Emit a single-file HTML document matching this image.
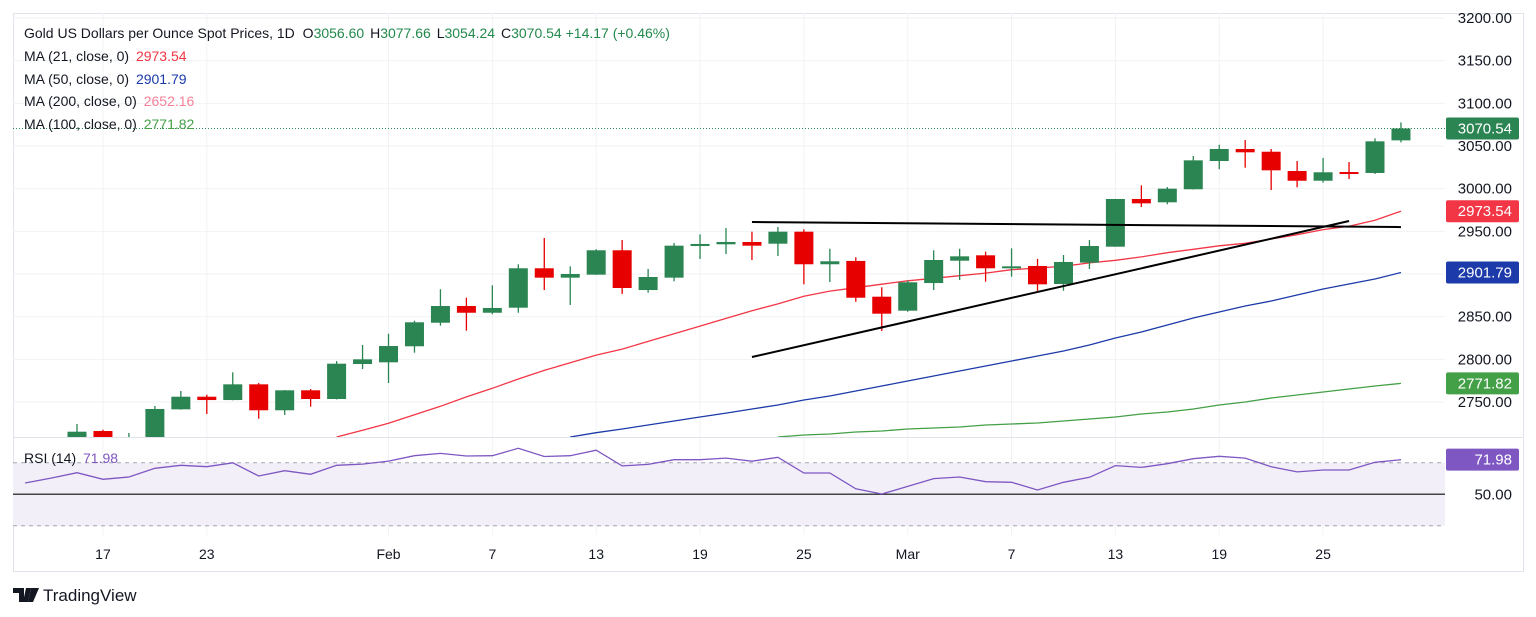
<!DOCTYPE html>
<html><head><meta charset="utf-8"><style>
html,body{margin:0;padding:0;background:#fff;}
svg{display:block;font-family:"Liberation Sans",Arial,sans-serif;}
</style></head><body>
<svg id="chart" width="1536" height="617" viewBox="0 0 1536 617" xmlns="http://www.w3.org/2000/svg">
<defs>
<clipPath id="mainClip"><rect x="13" y="13" width="1432" height="424"/></clipPath>
<clipPath id="rsiClip"><rect x="13" y="438" width="1432" height="97"/></clipPath>
</defs>
<rect x="13.5" y="13.5" width="1510" height="558" fill="#fff" stroke="#e0e3eb"/>
<g id="grid"></g>
<rect x="13" y="462.7" width="1432" height="63" fill="#f2eff9"/>
<g id="main" clip-path="url(#mainClip)"></g>
<g id="rsi" clip-path="url(#rsiClip)"></g>
<g id="axes"></g>
<g font-size="14" fill="#131722">
<text x="24" y="38">Gold US Dollars per Ounce Spot Prices, 1D <tspan dx="4">O</tspan><tspan fill="#22894c">3056.60</tspan> <tspan dx="2">H</tspan><tspan fill="#22894c">3077.66</tspan> <tspan dx="2">L</tspan><tspan fill="#22894c">3054.24</tspan> <tspan dx="2">C</tspan><tspan fill="#22894c">3070.54</tspan> <tspan fill="#22894c">+14.17 (+0.46%)</tspan></text>
<text x="24" y="61">MA (21, close, 0) <tspan dx="3" fill="#f23645">2973.54</tspan></text>
<text x="24" y="84">MA (50, close, 0) <tspan dx="3" fill="#1c3aa9">2901.79</tspan></text>
<text x="24" y="106">MA (200, close, 0) <tspan dx="3" fill="#f7819a">2652.16</tspan></text>
<text x="24" y="129">MA (100, close, 0) <tspan dx="3" fill="#43a047">2771.82</tspan></text>
<text x="24" y="463">RSI (14) <tspan dx="3" fill="#7e57c2">71.98</tspan></text>
</g>
<g>
<path d="M13 588h11v14h-5v-9h-6z M26 588h5l-3 14h-5z" fill="#131722"/>
<circle cx="28" cy="590" r="0" fill="#131722"/>
<path d="M31 588h8l-6 14h-5z" fill="#131722"/>
<text x="43" y="601" font-size="17" fill="#131722">TradingView</text>
</g>
</svg>
<script>
// ---- data ----
const dates = ["Jan 16","Jan 17","Jan 20","Jan 21","Jan 22","Jan 23","Jan 24","Jan 27","Jan 28","Jan 29","Jan 30","Jan 31","Feb 3","Feb 4","Feb 5","Feb 6","Feb 7","Feb 10","Feb 11","Feb 12","Feb 13","Feb 14","Feb 17","Feb 18","Feb 19","Feb 20","Feb 21","Feb 24","Feb 25","Feb 26","Feb 27","Feb 28","Mar 3","Mar 4","Mar 5","Mar 6","Mar 7","Mar 10","Mar 11","Mar 12","Mar 13","Mar 14","Mar 17","Mar 18","Mar 19","Mar 20","Mar 21","Mar 24","Mar 25","Mar 26","Mar 27","Mar 28"];
const opens = [2708.2,2716,2707,2708,2741.4,2756.2,2752.3,2770.7,2740.3,2763.7,2753.5,2794.5,2796.5,2815.3,2842.9,2862.5,2854.6,2860.5,2906.7,2895.7,2899.2,2927.8,2881.2,2895.7,2932.8,2934.8,2937.5,2935.5,2949.6,2911.4,2915.3,2873.4,2857,2889.4,2915.6,2921.9,2908.5,2909.4,2888.3,2913.3,2932,2987.9,2984,2999.3,3032.4,3046.5,3043.3,3020.7,3009.3,3019.5,3018.4,3056.6];
const highs = [2724.2,2717.5,2713.7,2745.3,2762.9,2758.6,2784.8,2772.3,2764,2765.2,2798,2816.8,2830,2845.3,2882.1,2872.2,2886.8,2911.4,2942.2,2909,2929,2939.8,2905.9,2936.3,2946.5,2953.9,2949.6,2955.1,2952.4,2929.6,2919.6,2884.4,2892.2,2927.8,2929.6,2926.1,2930.1,2917.6,2922.3,2939.8,2988,3003.9,3001.9,3038.3,3051.5,3057,3046.5,3032.4,3035.9,3031.2,3059,3077.66];
const lows = [2700,2700,2702,2706,2741,2735.9,2752,2730.4,2734.8,2744.5,2753,2788.7,2772.3,2807.8,2839.4,2833.6,2852.8,2854.6,2881.2,2863.7,2899,2876.6,2878.1,2891.4,2917.6,2923.4,2916.4,2921.1,2887.9,2890.6,2867.5,2833.2,2855.8,2881.2,2893,2891,2896.8,2880.1,2880.4,2905.9,2932,2978.5,2981.7,2999,3022.7,3024.6,2998.4,3001.6,3007,3011.3,3017.2,3054.24];
const closes = [2715.2,2706,2709,2741.8,2756.2,2752.3,2770.7,2740.3,2763.7,2753.5,2794.9,2800,2815.6,2843.4,2862.5,2854.6,2860.2,2906.7,2895.7,2900,2927.8,2883.6,2896.5,2933.2,2935.2,2937.5,2933.2,2949.6,2911.4,2914.9,2872.2,2853.5,2890.3,2916.4,2920.7,2906.7,2909,2887.9,2914.1,2932.8,2987.9,2982.8,3000,3033.2,3046.5,3042.6,3021.5,3009.3,3019.2,3018,3055.5,3070.54];
const ma21Start = 10;
const ma21 = [2709,2717,2725,2735,2745,2756,2766,2777,2787,2796,2805,2812,2821,2830,2839,2848,2857,2865,2874,2880,2884,2888,2892,2895,2898,2901,2905,2907,2909,2913,2916,2920,2925,2929,2933,2936,2941,2946,2952,2956,2963,2973.54];
const ma50Start = 19;
const ma50 = [2709,2714,2718.4,2723,2727.7,2732.4,2737,2741.8,2746.5,2752.3,2757,2762.9,2768.7,2774.6,2780.5,2786.3,2792.2,2798,2803.9,2809.8,2816.8,2825,2832,2840.2,2848.4,2855.5,2862.5,2868.4,2875.4,2882.4,2888.3,2894.1,2901.79];
const ma100Start = 27;
const ma100 = [2709,2711.3,2712.5,2714.8,2716,2718.4,2719.5,2720.7,2723,2724.2,2725.4,2727.7,2730.1,2732.4,2735.9,2738.3,2741.8,2746.5,2750,2754.7,2758.2,2761.7,2765.2,2768.7,2771.82];
const rsiStart = -2;
const rsi = [57.2,60.3,63.7,59.5,61,66.5,68.4,67.5,70,61.6,65,62.7,68.4,69.2,71.1,74.5,76,74.3,74.5,79.2,74,74.5,78,68,69,72,72,73,71,73.5,63.5,63.5,53.5,50.2,55,60,61,58,57.6,52.7,57.6,60.8,68.2,67.1,69.4,72.6,74.1,73,67.5,64.2,65.4,65.4,70.3,71.98];
const priceTicks = [2750,2800,2850,2900,2950,3000,3050,3100,3150,3200];
const dateLabels = ["17","23","Feb","7","13","19","25","Mar","7","13","19","25"];
const dateLabelIdx = [1,5,12,16,20,24,28,32,36,40,44,48];
const hLineIdx = [26,51]; const hLinePrice = [2960.9,2955];
const tLineIdx = [26,49]; const tLinePrice = [2802.7,2962.1];

// ---- scales ----
const NS = "http://www.w3.org/2000/svg";
const X0 = 77, STEP = 25.96;
function x(i){ return X0 + i*STEP; }
function y(p){ return 18 + (3200 - p)*0.85333; }
function ry(v){ return 494.3 - (v-50)*1.575; }
function mk(tag, attrs, parent){ const e=document.createElementNS(NS,tag); for(const k in attrs) e.setAttribute(k,attrs[k]); parent.appendChild(e); return e; }

const grid=document.getElementById('grid'), main=document.getElementById('main'), rp=document.getElementById('rsi'), axes=document.getElementById('axes');
const GREEN="#2b8553", RED="#e60000";

// grid
for (let k=0;k<priceTicks.length;k++){
  const gy=y(priceTicks[k]);
  const l=mk('line',{x1:13,x2:1445,y1:gy,y2:gy,stroke:'#f0f2f5','stroke-width':1},grid);
  
  
  const t=mk('text',{x:1512,y:gy+5,'text-anchor':'end','font-size':15,fill:'#131722'},axes);
  t.textContent=priceTicks[k].toFixed(2);
  
  
}
for (let k=0;k<dateLabels.length;k++){
  const gx=x(dateLabelIdx[k]);
  const l=mk('line',{x1:gx,x2:gx,y1:13,y2:535,stroke:'#f0f2f5','stroke-width':1},grid);
  
  
  const t=mk('text',{x:gx,y:559,'text-anchor':'middle','font-size':14,fill:'#131722'},axes);
  t.textContent=dateLabels[k];
  
  
}
const sep=mk('line',{x1:13,x2:1523,y1:437.5,y2:437.5,stroke:'#e0e3eb','stroke-width':1},axes);



// last price line
const lp=mk('line',{x1:13,x2:1445,y1:y(closes[closes.length-1]),y2:y(closes[closes.length-1]),stroke:GREEN,'stroke-width':1,'stroke-dasharray':'1 2'},main);



// MAs
function maPath(arr,start,color,name){
  let d=''; for(let k=0;k<arr.length;k++){ d+=(k?'L':'M')+x(start+k).toFixed(1)+' '+y(arr[k]).toFixed(1); }
  const p=mk('path',{d:d,fill:'none',stroke:color,'stroke-width':1.3},main);
  
  
}
maPath(ma21,ma21Start,'#f23645','ma21-line');
maPath(ma50,ma50Start,'#1c3aa9','ma50-line');
maPath(ma100,ma100Start,'#43a047','ma100-line');

// candles
for(let i=0;i<opens.length;i++){
  const up=closes[i]>=opens[i]; const c=up?GREEN:RED;
  const g=mk('g',{},main);
  
  
  const w=mk('line',{x1:x(i),x2:x(i),y1:y(highs[i]),y2:y(lows[i]),stroke:c,'stroke-width':1.3},g);
  
  
  const top=y(Math.max(opens[i],closes[i])), bot=y(Math.min(opens[i],closes[i]));
  const b=mk('rect',{x:x(i)-9.5,y:top,width:19,height:Math.max(2,bot-top),fill:c},g);
  
  
}

// trend lines
const h1=mk('line',{x1:x(hLineIdx[0]),y1:y(hLinePrice[0]),x2:x(hLineIdx[1]),y2:y(hLinePrice[1]),stroke:'#000','stroke-width':2},main);


const t1=mk('line',{x1:x(tLineIdx[0]),y1:y(tLinePrice[0]),x2:x(tLineIdx[1]),y2:y(tLinePrice[1]),stroke:'#000','stroke-width':2},main);



// RSI
[70,30].forEach(function(v){
  const l=mk('line',{x1:13,x2:1445,y1:ry(v),y2:ry(v),stroke:'#a3a6af','stroke-width':1,'stroke-dasharray':'4 4'},rp);
  
  
});
const mid=mk('line',{x1:13,x2:1445,y1:ry(50),y2:ry(50),stroke:'#444','stroke-width':1.5},rp);


let rd=''; for(let k=0;k<rsi.length;k++){ rd+=(k?'L':'M')+x(rsiStart+k).toFixed(1)+' '+ry(rsi[k]).toFixed(1); }
const rl=mk('path',{d:rd,fill:'none',stroke:'#7e57c2','stroke-width':1.3},rp);


const r50=mk('text',{x:1512,y:ry(50)+5,'text-anchor':'end','font-size':15,fill:'#131722'},axes);
r50.textContent='50.00';



// axis value tags
function tag(yc,txt,bg,name){
  const g=mk('g',{},axes);
  
  
  mk('rect',{x:1446,y:yc-11,width:73,height:22,rx:2,fill:bg},g);
  const t=mk('text',{x:1512,y:yc+5,'text-anchor':'end','font-size':15,fill:'#fff'},g);
  t.textContent=txt;
}
tag(y(closes[closes.length-1]),closes[closes.length-1].toFixed(2),GREEN,'last-price-tag');
tag(y(ma21[ma21.length-1]),ma21[ma21.length-1].toFixed(2),'#f23645','ma21-tag');
tag(y(ma50[ma50.length-1]),ma50[ma50.length-1].toFixed(2),'#1c3aa9','ma50-tag');
tag(y(ma100[ma100.length-1]),ma100[ma100.length-1].toFixed(2),'#43a047','ma100-tag');
tag(ry(rsi[rsi.length-1]),rsi[rsi.length-1].toFixed(2),'#7e57c2','rsi-tag');
</script>
</body></html>
